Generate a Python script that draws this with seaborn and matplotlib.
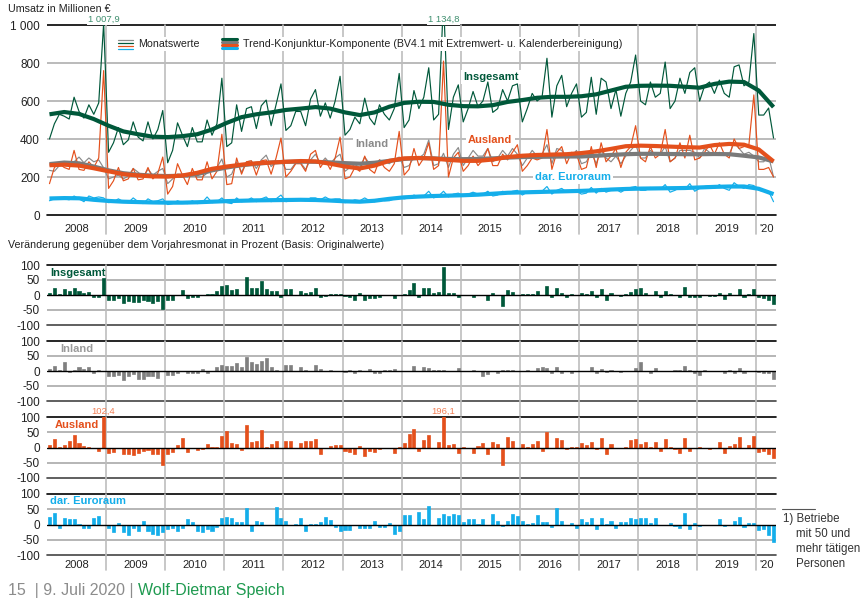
import numpy as np
import pandas as pd
import matplotlib
matplotlib.use("Agg")
import matplotlib.pyplot as plt
from matplotlib.lines import Line2D
import seaborn as sns

# ---- data (Jan 2008 .. Apr 2020, monthly) ----
years = ["2008", "2009", "2010", "2011", "2012", "2013", "2014",
         "2015", "2016", "2017", "2018", "2019", "'20"]

# Monatswerte, Mio. EUR
ins_month = [
    400, 480, 530, 520, 505, 620, 545, 510, 580, 530, 590, 1007.9,
    330, 380, 460, 370, 395, 490, 410, 390, 490, 400, 450, 550,
    275, 340, 485, 420, 360, 460, 385, 385, 500, 420, 480, 720,
    360, 380, 580, 440, 560, 570, 455, 575, 605, 470, 580, 690,
    445, 470, 545, 545, 470, 610, 660, 520, 590, 510, 600, 730,
    420, 450, 515, 480, 615, 510, 475, 580, 530, 500, 560, 745,
    460, 500, 655, 560, 620, 775, 500, 530, 1134.8, 450, 620, 685,
    490, 560, 650, 570, 600, 700, 540, 560, 660, 600, 680, 690,
    490, 560, 640, 600, 620, 825, 515, 680, 735, 570, 640, 690,
    515, 540, 725, 530, 720, 700, 560, 660, 520, 640, 700, 842,
    600, 580, 700, 620, 640, 805, 560, 600, 720, 640, 750, 775,
    600, 680, 700, 640, 710, 640, 620, 780, 790, 680, 700, 955,
    526, 526, 563, 405,
]
inl_month = [
    235, 230, 260, 270, 265, 280, 305, 275, 300, 280, 290, 248,
    190, 200, 210, 190, 205, 245, 225, 200, 240, 210, 230, 245,
    165, 190, 215, 210, 200, 215, 200, 200, 220, 230, 250, 295,
    200, 215, 280, 225, 280, 285, 245, 290, 315, 255, 280, 285,
    240, 240, 275, 275, 240, 290, 320, 270, 300, 270, 300, 320,
    230, 250, 265, 250, 305, 270, 255, 290, 280, 270, 290, 305,
    250, 260, 305, 300, 320, 395, 260, 270, 325, 250, 320, 355,
    260, 300, 340, 310, 310, 350, 280, 300, 340, 310, 350, 320,
    260, 300, 340, 310, 320, 370, 270, 350, 340, 300, 310, 340,
    270, 280, 330, 270, 340, 300, 280, 310, 270, 310, 340, 370,
    300, 300, 340, 320, 320, 360, 280, 300, 340, 340, 340, 330,
    300, 350, 330, 320, 330, 320, 320, 380, 350, 320, 330, 310,
    280, 280, 310, 200,
]
aus_month = [
    165, 250, 270, 250, 240, 340, 240, 235, 280, 250, 300, 760,
    140, 180, 250, 180, 190, 245, 185, 190, 250, 190, 220, 305,
    110, 150, 270, 210, 160, 245, 185, 185, 280, 190, 230, 425,
    160, 165, 300, 215, 280, 285, 210, 285, 290, 215, 300, 405,
    200, 230, 270, 270, 230, 320, 340, 250, 290, 240, 300, 410,
    190, 200, 250, 230, 310, 240, 220, 290, 250, 230, 270, 440,
    210, 240, 350, 260, 300, 380, 240, 260, 810, 200, 300, 330,
    230, 260, 310, 260, 290, 350, 260, 260, 320, 290, 330, 370,
    230, 260, 300, 290, 300, 450, 240, 330, 360, 270, 330, 320,
    240, 250, 360, 250, 380, 280, 310, 350, 250, 330, 360, 470,
    300, 280, 360, 300, 320, 450, 280, 300, 380, 300, 420, 290,
    300, 330, 370, 320, 380, 320, 300, 400, 350, 360, 370, 632,
    240, 240, 250, 200,
]
eur_month = [
    75, 85, 90, 85, 80, 100, 85, 70, 100, 90, 95, 90,
    65, 70, 85, 70, 65, 90, 70, 60, 85, 70, 75, 85,
    55, 60, 75, 65, 60, 75, 60, 65, 95, 65, 70, 90,
    65, 60, 90, 70, 75, 90, 70, 85, 95, 70, 85, 105,
    70, 75, 85, 80, 75, 90, 90, 80, 95, 80, 85, 85,
    65, 70, 80, 75, 90, 75, 70, 85, 75, 75, 85, 95,
    85, 90, 105, 95, 100, 125, 90, 100, 125, 95, 110, 115,
    100, 110, 120, 110, 110, 125, 100, 105, 125, 115, 125, 130,
    105, 120, 125, 120, 125, 150, 110, 130, 140, 120, 130, 125,
    110, 115, 145, 115, 140, 120, 130, 135, 120, 135, 145, 150,
    130, 130, 145, 135, 135, 160, 120, 130, 145, 135, 165, 125,
    140, 150, 155, 140, 160, 140, 130, 170, 150, 140, 160, 155,
    130, 125, 125, 70,
]

# Trend-Konjunktur-Komponente, quarterly knots (Jan, Apr, Jul, Oct; last = Apr 2020)
ins_trend = [530, 542, 532, 505, 470, 440, 425, 412, 410, 415, 425, 450,
             485, 515, 530, 540, 553, 560, 568, 560, 540, 526, 540, 570,
             590, 596, 595, 580, 573, 572, 578, 595, 605, 617, 622, 622,
             625, 635, 655, 675, 680, 681, 680, 675, 670, 690, 702, 700,
             655, 568]
inl_trend = [268, 276, 272, 255, 235, 220, 212, 207, 205, 207, 215, 235,
             250, 262, 270, 276, 280, 281, 280, 277, 273, 270, 275, 285,
             295, 300, 298, 295, 294, 295, 298, 302, 305, 306, 307, 308,
             308, 312, 316, 320, 322, 322, 321, 320, 320, 321, 320, 312,
             303, 282]
aus_trend = [262, 265, 260, 246, 230, 215, 208, 203, 202, 208, 222, 243,
             255, 265, 272, 276, 280, 284, 282, 270, 255, 245, 260, 285,
             298, 300, 297, 290, 285, 285, 292, 305, 312, 316, 318, 320,
             326, 335, 348, 362, 365, 363, 360, 357, 355, 368, 374, 370,
             345, 282]
eur_trend = [87, 89, 88, 80, 74, 70, 68, 66, 65, 65, 67, 70,
             73, 75, 77, 78, 79, 80, 79, 76, 72, 70, 75, 85,
             93, 97, 100, 102, 104, 107, 112, 117, 119, 121, 123, 125,
             127, 130, 134, 137, 139, 140, 141, 142, 145, 148, 150, 150,
             138, 110]

# Veraenderung gegenueber Vorjahresmonat in %
ins_pct = [
    8, 24, 5, 20, 12, 23, 15, 6, 10, -5, -5, 58,
    -17, -15, -10, -25, -20, -22, -23, -18, -20, -25, -20, -45,
    -15, -15, 0, 17, -10, -5, -5, 0, 2, 4, 12, 30,
    33, 18, 20, 0, 60, 25, 22, 47, 20, 14, 14, -5,
    20, 20, 0, 12, 8, 10, 25, -8, -2, 5, 5, 5,
    -2, -5, -15, 8, -17, -10, -10, -8, 0, 0, -10, 0,
    5, 18, 40, -5, 22, 25, 8, 10, 92, 7, 8, -8,
    0, 0, -8, 0, 0, -15, 7, 0, -38, 18, 10, 0,
    3, 3, 5, 15, 0, 30, -5, 24, 8, -8, 5, 0,
    8, 5, 15, -8, 20, -15, 8, 0, -2, 3, 10, 20,
    23, 8, 0, 14, -5, 14, 3, 0, -5, 27, -5, -5,
    -5, 0, -3, -3, 8, -12, 8, 0, 20, -5, 3, 20,
    -8, -10, -15, -30,
]
inl_pct = [
    8, 18, 5, 30, -2, 5, 15, 8, 14, -5, 5, 0,
    -15, -18, -12, -30, -18, -10, -25, -25, -18, -15, -22, 0,
    -12, -12, -5, 0, -5, -8, -5, 8, -8, 0, 15, 20,
    18, 18, 28, 13, 48, 30, 22, 35, 42, 13, 5, 0,
    20, 20, 0, 13, 5, 0, 20, 8, 0, 5, 0, 0,
    -3, 3, -8, 5, 0, 8, -5, -5, 5, 5, 8, 0,
    0, 0, 18, 0, 15, 10, 5, 5, 3, 0, 0, 10,
    0, 0, 5, 0, -15, -10, 0, -8, 3, 5, 5, 0,
    0, 5, 0, 10, 15, 10, -8, 15, -5, 0, -5, 0,
    0, 0, 12, -8, 8, -3, 5, 0, -3, 0, 0, 10,
    30, 0, -5, 10, 0, 1, 1, 2, 2, 18, 5, -8,
    -12, 5, 0, 0, 0, -5, 5, -5, 10, -8, 0, 0,
    -3, -8, -5, -28,
]
aus_pct = [
    8, 28, 3, 8, 20, 42, 15, 5, 3, -3, -10, 102.4,
    -17, -15, -3, -20, -20, -25, -18, -12, -8, -20, -20, -58,
    -22, -15, 8, 32, -15, 0, -8, -5, 10, 3, 3, 38,
    55, 15, 10, -8, 73, 18, 20, 58, 3, 12, 22, 0,
    22, 22, 0, 15, 20, 22, 28, -20, 0, 5, 8, 8,
    -10, -15, -20, 5, -28, -12, -15, -5, 0, 0, -18, 3,
    15, 45, 62, -10, 25, 40, 0, 18, 196.1, 8, 12, -18,
    3, 0, -18, 5, 15, -20, 18, 10, -58, 35, 20, 0,
    10, 2, 10, 20, -10, 50, -2, 30, 25, -5, 3, 2,
    15, 8, 18, -5, 30, -20, 10, -3, 0, 3, 25, 28,
    12, 18, 3, 18, -10, 27, 3, -5, -18, 30, -12, 0,
    2, 0, -5, -3, 18, -18, 5, 12, 33, -3, 8, 38,
    -15, -12, -22, -35,
]
eur_pct = [
    25, 38, -10, 20, 18, 18, 3, -12, -10, 20, 28, 0,
    -12, -25, 5, -25, -35, -10, -20, 10, -22, -30, -35, -25,
    -15, -12, -20, -12, 18, 8, -22, -25, -15, -22, -8, 22,
    25, 22, 8, 8, 55, -22, 12, 8, 0, 0, 58, 22,
    12, 0, 3, 20, -20, 3, 3, 8, 25, 15, -8, -22,
    -18, -18, 0, -12, -12, -12, 10, -8, -8, 5, -30, -20,
    30, 32, 0, 40, 18, 60, 0, 20, 35, 28, 35, 32,
    8, 18, 18, 3, 18, 0, 35, 10, -5, 12, 35, 28,
    12, 3, 5, 30, 8, 8, -8, 55, 10, 0, 5, -10,
    18, 8, 22, -15, 22, 3, 10, -10, 8, 8, 22, 18,
    22, 22, 5, 20, 0, 0, 5, -5, -10, 38, -15, 5,
    -5, 0, -2, 0, 18, -5, 0, 10, 25, -8, 5, 5,
    -18, -15, -33, -58,
]

GREEN = "#00583a"
GRAY = "#8a8a8a"
ORANGE = "#e4501c"
BLUE = "#14aeea"

sns.set_theme(style="white")
plt.rcParams["font.family"] = ["Liberation Sans", "DejaVu Sans"]

W, H = 866, 602


def fx(x):
    return x / W


def fy(y):
    return 1 - y / H


n = len(ins_month)
xm = np.arange(n) + 0.5
xt = np.arange(0, n, 3) + 0.5
bounds = list(range(12, n, 12))
centers = [6 + 12 * i for i in range(12)] + [146]

fig = plt.figure(figsize=(W / 100, H / 100), dpi=100)

# ---------------- top panel ----------------
ax = fig.add_axes([fx(47), fy(215), 729 / W, (215 - 17.4) / H])
for s in ax.spines.values():
    s.set_visible(False)
ax.set_xlim(0, n)
ax.set_ylim(0, 1040)
for v in [200, 400, 600, 800]:
    ax.axhline(v, color="#a8a8a8", lw=1.1, zorder=1)
ax.plot([0, n], [1000, 1000], color="black", lw=1.2, zorder=1)
ax.plot([0, n], [0, 0], color="black", lw=1.2, zorder=1, clip_on=False)
for b in bounds:
    ax.plot([b, b], [-100, 1000], color="#bdbdbd", lw=1.2, zorder=1, clip_on=False)

for vals, col in [(eur_month, BLUE), (inl_month, GRAY), (aus_month, ORANGE), (ins_month, GREEN)]:
    sns.lineplot(x=xm, y=vals, ax=ax, color=col, lw=0.85, zorder=3)
for vals, col in [(eur_trend, BLUE), (inl_trend, "#7a7a7a"), (aus_trend, ORANGE), (ins_trend, GREEN)]:
    sns.lineplot(x=xt, y=vals, ax=ax, color=col, lw=3.0, zorder=4,
                 solid_capstyle="butt", solid_joinstyle="round")

ax.set_yticks([0, 200, 400, 600, 800, 1000])
ax.set_yticklabels(["0", "200", "400", "600", "800", "1 000"])
ax.set_xticks(centers)
ax.set_xticklabels(years)
ax.tick_params(axis="y", length=0, pad=5, labelsize=8.5, labelcolor="#222222")
ax.tick_params(axis="x", length=0, pad=6.5, labelsize=8, labelcolor="#222222")
ax.set_xlabel("")
ax.set_ylabel("")

lbl = dict(fontsize=8, fontweight="bold", va="center", ha="left", zorder=2,
           bbox=dict(facecolor="white", edgecolor="none", pad=1.5))
ax.text(84.5, 725, "Insgesamt", color=GREEN, **lbl)
ax.text(62.5, 375, "Inland", color=GRAY, **lbl)
ax.text(85.5, 395, "Ausland", color=ORANGE, **lbl)
ax.text(99, 200, "dar. Euroraum", color=BLUE, **lbl)

# spike labels
spk = dict(ha="center", va="center", fontsize=6.8, color="#3f8f6f", zorder=6,
           bbox=dict(facecolor="white", edgecolor="none", pad=0.3))
ax.text(xm[11], 1028, "1 007,9", **spk)
ax.text(xm[80], 1028, "1 134,8", **spk)

# ---------------- bar panels ----------------
panels = [
    (265, 325, ins_pct, GREEN, "Insgesamt", 50),
    (341, 401, inl_pct, "#808080", "Inland", 60),
    (417, 478, aus_pct, ORANGE, "Ausland", 55),
    (494, 555, eur_pct, BLUE, "dar. Euroraum", 50),
]
label_cols = [GREEN, "#9a9a9a", ORANGE, BLUE]
for k, (ytop, ybot, vals, col, name, lx) in enumerate(panels):
    bx = fig.add_axes([fx(47), fy(ybot), 729 / W, (ybot - ytop) / H])
    for s in bx.spines.values():
        s.set_visible(False)
    sns.barplot(x=xm, y=vals, ax=bx, color=col, native_scale=True, width=0.62,
                saturation=1, errorbar=None, edgecolor=col, linewidth=0.5, zorder=3)
    bx.set_xlim(0, n)
    bx.set_ylim(-100, 100)
    bx.axhline(50, color="#b5b5b5", lw=1.4, zorder=1)
    bx.axhline(-50, color="#b5b5b5", lw=1.4, zorder=1)
    bx.plot([0, n], [100, 100], color="black", lw=1.2, zorder=1, clip_on=False)
    bx.plot([0, n], [-100, -100], color="#444444", lw=1.2, zorder=1, clip_on=False)
    bx.axhline(0, color="black", lw=1.0, zorder=4)
    low = -150 if k == 3 else -153
    for b in bounds:
        bx.plot([b, b], [low, 100], color="#bdbdbd", lw=1.2, zorder=1, clip_on=False)
    bx.set_yticks([-100, -50, 0, 50, 100])
    bx.set_yticklabels(["-100", "-50", "0", "50", "100"])
    bx.tick_params(axis="y", length=0, pad=5, labelsize=8.5, labelcolor="#222222")
    bx.set_xlabel("")
    bx.set_ylabel("")
    if k == 3:
        bx.set_xticks(centers)
        bx.set_xticklabels(years)
        bx.tick_params(axis="x", length=0, pad=3.5, labelsize=8, labelcolor="#222222")
    else:
        bx.set_xticks([])
    fig.text(fx(lx), fy(ytop + 7.5), name, color=label_cols[k], fontsize=8,
             fontweight="bold", va="center", ha="left")
    if k == 2:
        for i in [11, 80]:
            bx.annotate(f"{vals[i]:.1f}".replace(".", ","), xy=(xm[i], 100),
                        xytext=(0, 4), textcoords="offset points", ha="center",
                        va="center", fontsize=6.8, color="#f07f55", annotation_clip=False)

# ---------------- texts ----------------
fig.text(fx(8), fy(9), "Umsatz in Millionen \u20ac", fontsize=7.7, va="center", color="#222222")
fig.text(fx(8), fy(245), "Ver\u00e4nderung gegen\u00fcber dem Vorjahresmonat in Prozent (Basis: Originalwerte)",
         fontsize=7.7, va="center", color="#222222")

# legend
for i, c in enumerate([GRAY, GREEN, ORANGE, BLUE]):
    fig.add_artist(Line2D([fx(118), fx(133)], [fy(39.5 + 3 * i)] * 2, color=c, lw=0.9))
for i, c in enumerate([GREEN, "#7a7a7a", ORANGE, BLUE]):
    fig.add_artist(Line2D([fx(222), fx(237)], [fy(38.5 + 3.3 * i)] * 2, color=c, lw=2.2))
leg = dict(fontsize=7.7, va="center", ha="left", color="#222222",
           bbox=dict(facecolor="white", edgecolor="none", pad=1.5))
fig.text(fx(138), fy(44), "Monatswerte", **leg)
fig.text(fx(243), fy(44), "Trend-Konjunktur-Komponente (BV4.1 mit Extremwert- u. Kalenderbereinigung)", **leg)

# footnote
fig.add_artist(Line2D([fx(782), fx(815)], [fy(509)] * 2, color="#555555", lw=0.8))
fn = dict(fontsize=8.3, va="center", ha="left", color="#333333")
fig.text(fx(783), fy(519), "1) Betriebe", **fn)
fig.text(fx(796), fy(534), "mit 50 und", **fn)
fig.text(fx(796), fy(549), "mehr t\u00e4tigen", **fn)
fig.text(fx(796), fy(564), "Personen", **fn)

# footer
fig.text(fx(8), fy(590), "15  | 9. Juli 2020 |", fontsize=11.5, va="center", color="#8c8c8c")
fig.text(fx(138), fy(590), "Wolf-Dietmar Speich", fontsize=11.5, va="center", color="#1f9a50")

fig.savefig("out.png", dpi=100)
